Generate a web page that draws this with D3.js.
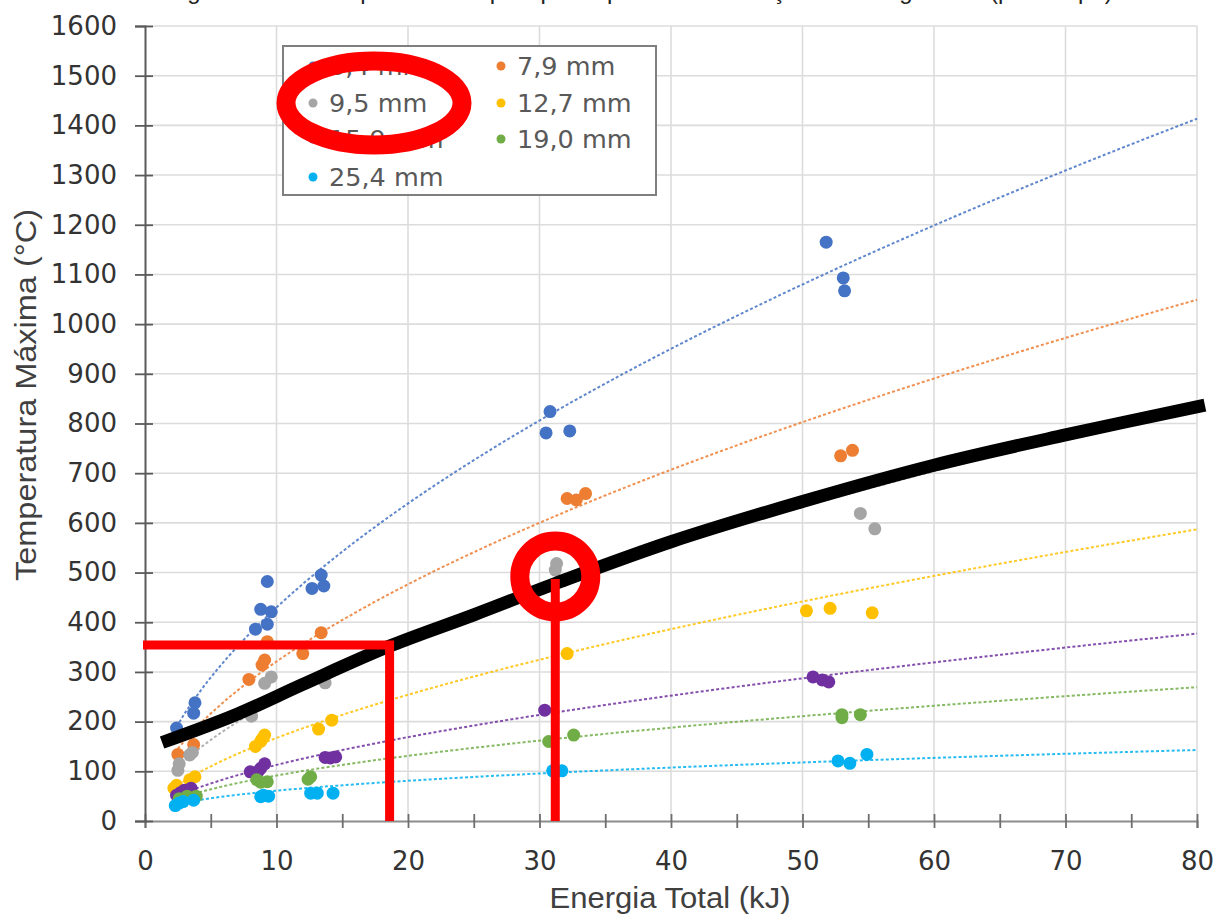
<!DOCTYPE html>
<html><head><meta charset="utf-8">
<script src="https://cdn.jsdelivr.net/npm/d3@7"></script>
<style>body{margin:0;background:#fff;} svg{display:block;}</style>
</head><body><svg id="chart" width="1216" height="915"></svg>
<script>
// Espessuras de chapa e cores das séries
const espessuras = ["6,4 mm", "7,9 mm", "9,5 mm", "12,7 mm", "15,9 mm", "19,0 mm", "25,4 mm"];
const cores = ["#4472C4", "#ED7D31", "#A5A5A5", "#FFC000", "#7030A0", "#70AD47", "#00B0F0"];

// Medições: [energia total (kJ), temperatura máxima (°C)]
const chapa64 = [[2.4,187],[3.7,217],[3.8,238],[8.4,386],[8.8,426],[9.3,396],[9.3,482],[9.6,421],[12.7,468],[13.4,495],[13.6,473],[30.5,781],[30.8,824],[32.3,785],[51.8,1165],[53.1,1093],[53.2,1067]];
const chapa79 = [[2.5,134],[3.7,154],[7.9,285],[8.9,314],[9.1,324],[9.3,361],[12.0,337],[13.4,379],[32.1,649],[32.8,646],[33.5,659],[52.9,735],[53.8,746]];
const chapa95 = [[2.5,102],[2.6,115],[3.4,133],[3.6,138],[8.1,211],[9.1,277],[9.6,290],[13.7,278],[31.2,505],[31.3,518],[54.4,619],[55.5,588]];
const chapa127 = [[2.2,66],[2.4,72],[3.4,83],[3.8,89],[8.4,150],[8.8,160],[8.9,165],[9.1,173],[13.2,185],[14.2,203],[32.1,337],[50.3,423],[52.1,428],[55.3,419]];
const chapa159 = [[2.4,52],[2.7,57],[3.0,62],[3.5,66],[8.0,99],[8.6,100],[8.8,106],[9.1,115],[13.7,128],[14.1,127],[14.5,129],[30.4,223],[50.8,290],[51.5,284],[52.0,280]];
const chapa190 = [[2.6,45],[3.2,50],[3.9,50],[8.5,83],[8.8,78],[9.3,79],[12.4,84],[12.6,89],[30.7,160],[32.6,173],[53.0,214],[53.0,208],[54.4,214]];
const chapa254 = [[2.3,31],[2.6,36],[2.9,39],[3.7,42],[8.8,49],[9.0,52],[9.4,50],[12.6,56],[13.1,56],[14.3,56],[31.0,101],[31.7,101],[52.7,121],[53.6,116],[54.9,134]];
const series = [chapa64, chapa79, chapa95, chapa127, chapa159, chapa190, chapa254];

// Linhas de tendência de potência y = a·x^b (coeficientes por espessura)
const tendenciaA = [115, 86.5, 63.3, 41.6, 29.7, 27.7, 23.7];
const tendenciaB = [0.5725, 0.5695, 0.5884, 0.604, 0.58, 0.519, 0.41];

// Curva de referência traçada à mão (preta)
const curvaReferencia = [[1.3,158],[7,215],[12,275],[18.6,352],[25,415],[31.2,478],[40,562],[50,643],[60,716],[70,777],[80.6,837]];

// Marcações em vermelho
const leituraHorizontal = [18.6, 354];
const leituraVertical = [31.2, 487];
const destaquePonto = [31.2, 492];

// Ticks dos eixos
const ticksX = [0, 10, 20, 30, 40, 50, 60, 70, 80];
const ticksXMenores = [5, 15, 25, 35, 45, 55, 65, 75];
const ticksY = [0, 100, 200, 300, 400, 500, 600, 700, 800, 900, 1000, 1100, 1200, 1300, 1400, 1500, 1600];

const tituloX = "Energia Total (kJ)";
const tituloY = "Temperatura Máxima (°C)";
const tituloFigura = "Figura 4.13 – Temperatura de pico por espessura em função da energia total (por chapa)";

const svg = d3.select("#chart");
const L = 145, R = 1197, T = 26, B = 821;
const x = d3.scaleLinear().domain([0, 80]).range([L, R]);
const y = d3.scaleLinear().domain([0, 1600]).range([B, T]);

// Título (cortado na borda superior)
svg.append("text").attr("x", 640).attr("y", -1)
  .attr("text-anchor", "middle").attr("font-family", "Liberation Sans, Arial, sans-serif")
  .attr("font-size", 24).attr("fill", "#222").text(tituloFigura);

// Grade
const grade = svg.append("g").attr("stroke", "#dcdcdc").attr("stroke-width", 1.6);
grade.selectAll("line.v").data(ticksX.slice(1)).join("line")
  .attr("x1", d => x(d)).attr("x2", d => x(d)).attr("y1", T).attr("y2", B);
grade.selectAll("line.h").data(ticksY.slice(1)).join("line")
  .attr("x1", L).attr("x2", R).attr("y1", d => y(d)).attr("y2", d => y(d));

// Eixo X
const eixoX = svg.append("g").attr("transform", `translate(0,${B})`)
  .call(d3.axisBottom(x).tickValues(ticksX.concat(ticksXMenores)).tickSize(7).tickPadding(24)
    .tickFormat(d => ticksX.includes(d) ? d : ""));
eixoX.select(".domain").attr("stroke", "#8c8c8c").attr("stroke-width", 2);
eixoX.selectAll(".tick line").attr("y1", -7).attr("stroke", "#6e6e6e").attr("stroke-width", 1.8);
eixoX.selectAll("text").attr("font-family", "DejaVu Sans, sans-serif").attr("font-size", 26).attr("fill", "#333");

// Eixo Y
const eixoY = svg.append("g").attr("transform", `translate(${L},0)`)
  .call(d3.axisLeft(y).tickValues(ticksY).tickSize(10).tickPadding(18).tickFormat(d => d));
eixoY.select(".domain").attr("stroke", "#5a5a5a").attr("stroke-width", 2);
eixoY.selectAll(".tick line").attr("x1", 8).attr("stroke", "#5a5a5a").attr("stroke-width", 1.8);
eixoY.selectAll("text").attr("font-family", "DejaVu Sans, sans-serif").attr("font-size", 26).attr("fill", "#333");

// Títulos dos eixos
svg.append("text").attr("x", 670).attr("y", 908).attr("text-anchor", "middle")
  .attr("font-family", "Liberation Sans, Arial, sans-serif").attr("font-size", 29).attr("fill", "#404040")
  .attr("textLength", 241).attr("lengthAdjust", "spacingAndGlyphs")
  .text(tituloX);
svg.append("text").attr("transform", "translate(36,395) rotate(-90)").attr("text-anchor", "middle")
  .attr("font-family", "Liberation Sans, Arial, sans-serif").attr("font-size", 29).attr("fill", "#404040")
  .attr("textLength", 372).attr("lengthAdjust", "spacingAndGlyphs")
  .text(tituloY);

// Linhas de tendência pontilhadas, da menor energia medida até 80 kJ
const linha = d3.line().x(d => x(d[0])).y(d => y(d[1]));
const tendencias = svg.append("g");
series.forEach((pts, i) => {
  const a = tendenciaA[i], b = tendenciaB[i];
  const x0 = d3.min(pts, p => p[0]);
  const amostras = d3.range(0, 121).map(k => { const e = x0 + (80 - x0) * k / 120; return [e, a * Math.pow(e, b)]; });
  tendencias.append("path").attr("d", linha(amostras)).attr("fill", "none")
    .attr("stroke", cores[i]).attr("stroke-width", 2).attr("stroke-dasharray", "3,2.2").attr("opacity", 0.85);
});

// Pontos medidos
const pontos = svg.append("g");
series.forEach((pts, i) => {
  pontos.selectAll(null).data(pts).join("circle")
    .attr("cx", d => x(d[0])).attr("cy", d => y(d[1])).attr("r", 6.5).attr("fill", cores[i]);
});

// Curva preta
svg.append("path").attr("d", d3.line().x(d => x(d[0])).y(d => y(d[1])).curve(d3.curveCatmullRom)(curvaReferencia))
  .attr("fill", "none").attr("stroke", "#000").attr("stroke-width", 13);

// Marcações vermelhas
const vermelho = "#FF0000";
svg.append("path")
  .attr("d", `M${x(0) - 2},${y(leituraHorizontal[1])} H${x(leituraHorizontal[0])} V${y(0)}`)
  .attr("fill", "none").attr("stroke", vermelho).attr("stroke-width", 9).attr("stroke-linejoin", "miter");
svg.append("line").attr("x1", x(leituraVertical[0])).attr("x2", x(leituraVertical[0]))
  .attr("y1", y(leituraVertical[1])).attr("y2", y(0)).attr("stroke", vermelho).attr("stroke-width", 9);
svg.append("circle").attr("cx", x(destaquePonto[0])).attr("cy", y(destaquePonto[1])).attr("r", 35.5)
  .attr("fill", "none").attr("stroke", vermelho).attr("stroke-width", 19);

// Legenda
const leg = svg.append("g");
leg.append("rect").attr("x", 283).attr("y", 46).attr("width", 373).attr("height", 149)
  .attr("fill", "#fff").attr("stroke", "#7f7f7f").attr("stroke-width", 2);
const linhasLeg = [66, 103, 139, 177], colMarc = [313, 501];
espessuras.forEach((nome, i) => {
  const col = i % 2, lin = Math.floor(i / 2);
  leg.append("circle").attr("cx", colMarc[col]).attr("cy", linhasLeg[lin]).attr("r", 4.5).attr("fill", cores[i]);
  leg.append("text").attr("x", colMarc[col] + 16).attr("y", linhasLeg[lin]).attr("dy", "0.36em")
    .attr("font-family", "DejaVu Sans, sans-serif").attr("font-size", 25.5).attr("fill", "#595959").text(nome);
});
// Destaque da entrada 9,5 mm
leg.append("ellipse").attr("cx", 374).attr("cy", 103).attr("rx", 88).attr("ry", 42)
  .attr("fill", "none").attr("stroke", vermelho).attr("stroke-width", 19);
</script></body></html>
